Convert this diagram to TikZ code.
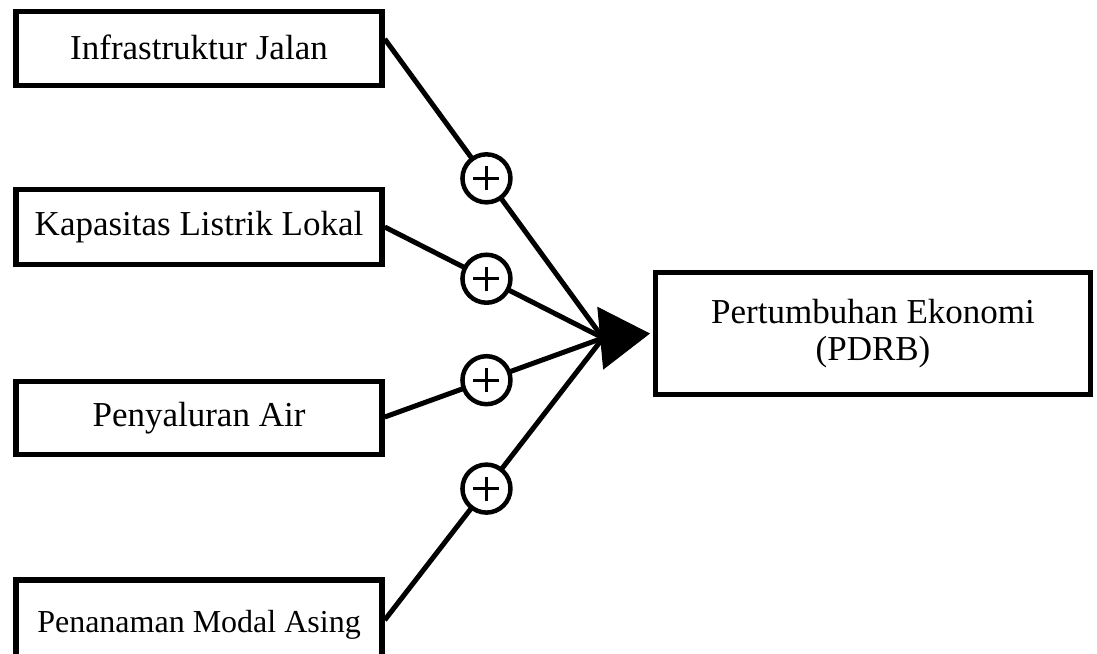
\documentclass[tikz,border=0pt]{standalone}
\usepackage{fontspec}
\setmainfont{Liberation Serif}
\usetikzlibrary{arrows.meta}
\begin{document}
\begin{tikzpicture}[x=1pt,y=-1pt,
  box/.style={draw,line width=5.5pt,inner sep=0pt,minimum width=366pt,
    font=\fontsize{35}{37}\selectfont},
  conn/.style={line width=5pt},
  pm/.style={circle,draw,line width=4.5pt,fill=white,minimum size=48pt,inner sep=0pt,
    path picture={\draw[line width=3pt]
      ([xshift=-13pt]path picture bounding box.center) -- ([xshift=13pt]path picture bounding box.center)
      ([yshift=-12pt]path picture bounding box.center) -- ([yshift=12pt]path picture bounding box.center);}}
]
\useasboundingbox (0,0) rectangle (1097,653);
\node[box,minimum height=74pt] (b1) at (199,48.5) {\raisebox{3pt}{Infrastruktur Jalan}};
\node[box,minimum height=75pt] (b2) at (199,227) {Kapasitas Listrik Lokal};
\node[box,minimum height=73pt] (b3) at (199,418) {Penyaluran Air};
\node[box,minimum height=90pt,font=\fontsize{32}{34}\selectfont] (b4) at (199,625) {\raisebox{3pt}{Penanaman Modal Asing}};
\node[box,minimum width=435pt,minimum height=122pt,align=center] (t) at (873,333.5)
  {Pertumbuhan Ekonomi\\(PDRB)};
\coordinate (m) at (603,338);
\draw[conn] ([yshift=9.5pt]b1.east) -- node[pm,pos=0.466] (c1) {} (m);
\draw[conn] (b2.east) -- node[pm,pos=0.466] (c2) {} (m);
\draw[conn] ([yshift=1pt]b3.east) -- node[pm,pos=0.466] (c3) {} (m);
\draw[conn] ([yshift=5pt]b4.east) -- node[pm,pos=0.466] (c4) {} (m);
\draw[line width=1pt,-{Triangle[length=50pt,width=63pt]}] ([xshift=-1pt]m) -- ([xshift=-2.75pt]t.west);
\end{tikzpicture}
\end{document}
